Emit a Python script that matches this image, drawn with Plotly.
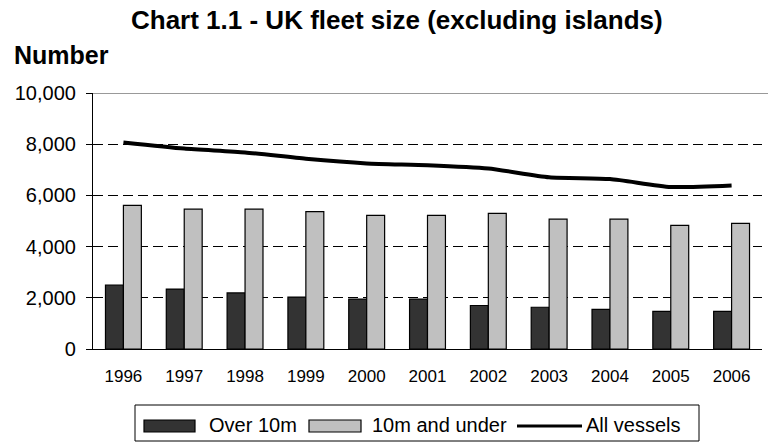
import plotly.graph_objects as go

years = ["1996", "1997", "1998", "1999", "2000", "2001", "2002", "2003", "2004", "2005", "2006"]
over_10m = [2500, 2340, 2190, 2030, 1950, 1950, 1700, 1630, 1550, 1470, 1470]
under_10m = [5610, 5460, 5460, 5370, 5220, 5220, 5300, 5070, 5070, 4830, 4910]
all_vessels = [8070, 7830, 7680, 7430, 7250, 7180, 7050, 6710, 6640, 6330, 6390]
series_names = ["Over 10m", "10m and under", "All vessels"]
DARK, LIGHT = "#333333", "#c0c0c0"

FONT = "Liberation Sans"
W, H = 768, 445
L, R, T, B = 93, 6, 93, 96
PW, PH = W - L - R, H - T - B


def px(x):
    return (x - L) / PW


def py(y):
    return (H - B - y) / PH


fig = go.Figure()
fig.add_trace(go.Bar(x=years, y=over_10m, name=series_names[0],
                     marker=dict(color=DARK, line=dict(color="black", width=1.2))))
fig.add_trace(go.Bar(x=years, y=under_10m, name=series_names[1],
                     marker=dict(color=LIGHT, line=dict(color="black", width=1.2))))
fig.add_trace(go.Scatter(x=years, y=all_vessels, name=series_names[2], mode="lines",
                         line=dict(color="black", width=4, shape="spline", smoothing=0.6)))

shapes = [
    # grey top border of plot area
    dict(type="line", xref="paper", yref="y", x0=0, x1=1.01, y0=10000, y1=10000,
         line=dict(color="#999999", width=2)),
    # legend box
    dict(type="rect", xref="paper", yref="paper", x0=px(135), x1=px(699), y0=py(405), y1=py(441),
         line=dict(color="black", width=1), fillcolor="white", layer="above"),
    dict(type="rect", xref="paper", yref="paper", x0=px(144), x1=px(195), y0=py(420), y1=py(432),
         line=dict(color="black", width=1.2), fillcolor=DARK, layer="above"),
    dict(type="rect", xref="paper", yref="paper", x0=px(309), x1=px(361), y0=py(420), y1=py(432),
         line=dict(color="black", width=1.2), fillcolor=LIGHT, layer="above"),
    dict(type="line", xref="paper", yref="paper", x0=px(517), x1=px(582), y0=py(426), y1=py(426),
         line=dict(color="black", width=3), layer="above"),
]

legend_text_x = [207, 370, 584]
annotations = [
    dict(text="<b>Chart 1.1 - UK fleet size (excluding islands)</b>", xref="paper", yref="paper",
         x=px(397), y=py(19.5), xanchor="center", yanchor="middle",
         showarrow=False, font=dict(size=26, family=FONT)),
    dict(text="<b>Number</b>", xref="paper", yref="paper",
         x=px(12), y=py(54.5), xanchor="left", yanchor="middle",
         showarrow=False, font=dict(size=25, family=FONT)),
]
for name, lx in zip(series_names, legend_text_x):
    annotations.append(dict(text=name, xref="paper", yref="paper", x=px(lx), y=py(425),
                            xanchor="left", yanchor="middle", showarrow=False,
                            font=dict(size=20, family=FONT)))

fig.update_layout(
    width=W, height=H,
    margin=dict(l=L, r=R, t=T, b=B, autoexpand=False),
    paper_bgcolor="white", plot_bgcolor="white",
    barmode="group", bargap=0.41, bargroupgap=0,
    font=dict(family=FONT, color="black", size=16),
    showlegend=False,
    xaxis=dict(showline=True, linecolor="black", linewidth=1.2, ticks="", automargin=False,
               tickfont=dict(size=17, family=FONT), ticklabelstandoff=11, showgrid=False),
    yaxis=dict(range=[0, 10000], dtick=2000, tickformat=",d", showline=True, automargin=False,
               linecolor="black", linewidth=1.2, ticks="outside", ticklen=6,
               tickcolor="black", showgrid=True, gridcolor="black", griddash="10px,5px",
               gridwidth=1, zeroline=False, tickfont=dict(size=20, family=FONT),
               ticklabelstandoff=6),
    annotations=annotations,
    shapes=shapes,
)

fig.write_html("out.html", config={"displayModeBar": False},
               post_script="document.body.style.margin='0';")
